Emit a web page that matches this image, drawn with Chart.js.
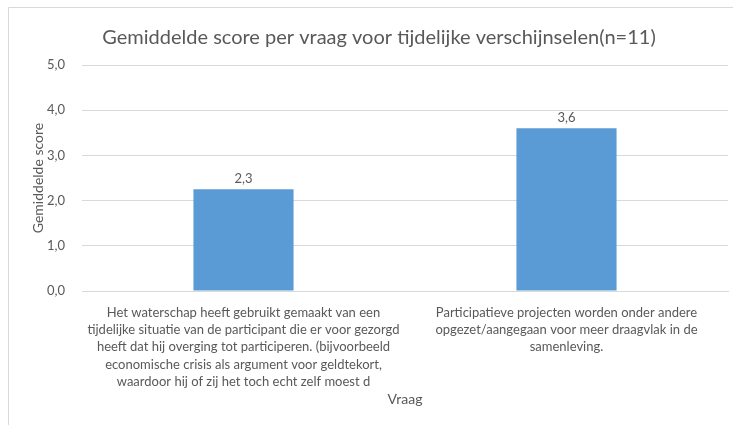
<!DOCTYPE html>
<html>
<head>
<meta charset="utf-8">
<script src="https://cdn.jsdelivr.net/npm/chart.js@4/dist/chart.umd.min.js"></script>
<style>
  html, body { margin: 0; padding: 0; background: #fff; }
  #wrap { width: 733px; height: 425px; position: relative; }
</style>
</head>
<body>
<div id="wrap"><canvas id="chart" width="733" height="425"></canvas></div>
<script>
// gegevens
const categories = [
    ['Het waterschap heeft gebruikt gemaakt van een',
     'tijdelijke situatie van de participant die er voor gezorgd',
     'heeft dat hij overging tot participeren. (bijvoorbeeld',
     'economische crisis als argument voor geldtekort,',
     'waardoor hij of zij het toch echt zelf moest d'],
    ['Participatieve projecten worden onder andere',
     'opgezet/aangegaan voor meer draagvlak in de',
     'samenleving.']
];
const scores = [2.25, 3.6];
const yTicks = [0, 1, 2, 3, 4, 5];

const textColor = '#595959';
const gridColor = '#d9d9d9';
const fontFam = 'Lato, "Open Sans", sans-serif';

function komma(v, d) {
    return Number(v).toFixed(d).replace('.', ',');
}

// rand links en boven, zoals in het origineel
const frame = {
    id: 'frame',
    beforeDraw(chart) {
        const c = chart.ctx;
        c.save();
        c.fillStyle = '#fff';
        c.fillRect(0, 0, chart.width, chart.height);
        c.strokeStyle = gridColor;
        c.lineWidth = 1;
        c.beginPath();
        c.moveTo(8.5, chart.height);
        c.lineTo(8.5, 7.5);
        c.lineTo(chart.width, 7.5);
        c.stroke();
        c.restore();
    }
};

// waarden boven de staven
const valueLabels = {
    id: 'valueLabels',
    afterDatasetsDraw(chart) {
        const c = chart.ctx;
        const meta = chart.getDatasetMeta(0);
        c.save();
        c.fillStyle = textColor;
        c.font = '13px ' + fontFam;
        c.textAlign = 'center';
        c.textBaseline = 'bottom';
        meta.data.forEach((bar, i) => {
            c.fillText(komma(scores[i], 1), bar.x, bar.y - 4);
        });
        c.restore();
    }
};

const ctx = document.getElementById('chart').getContext('2d');
new Chart(ctx, {
    type: 'bar',
    data: {
        labels: categories,
        datasets: [{
            label: 'Gemiddelde score',
            data: scores,
            backgroundColor: '#5b9bd5',
            borderWidth: 0,
            categoryPercentage: 1,
            barPercentage: 0.31
        }]
    },
    options: {
        responsive: false,
        animation: false,
        devicePixelRatio: 1,
        layout: { padding: { left: 30, right: 5, top: 14, bottom: 17 } },
        plugins: {
            legend: { display: false },
            tooltip: { enabled: false },
            title: {
                display: true,
                text: 'Gemiddelde score per vraag voor tijdelijke verschijnselen(n=11)',
                color: textColor,
                font: { family: fontFam, size: 20, weight: 'normal' },
                padding: { top: 12, bottom: 15 }
            }
        },
        scales: {
            x: {
                grid: { display: false },
                border: { color: gridColor },
                afterFit(scale) {
                    // vaste hoogte, lange labels mogen de plot niet verschuiven
                    scale.height = 117;
                    scale.paddingLeft = 0;
                    scale.paddingRight = 0;
                },
                ticks: {
                    color: textColor,
                    font: { family: fontFam, size: 13, lineHeight: 1.33 },
                    maxRotation: 0,
                    autoSkip: false,
                    padding: 5
                },
                title: {
                    display: true,
                    text: 'Vraag',
                    color: textColor,
                    font: { family: fontFam, size: 14 },
                    padding: { top: 3, bottom: 0 }
                }
            },
            y: {
                min: 0,
                max: 5,
                afterBuildTicks(axis) {
                    axis.ticks = yTicks.map(v => ({ value: v }));
                },
                afterFit(scale) {
                    scale.width = 52;
                },
                grid: { color: gridColor, drawTicks: false },
                border: { display: false },
                ticks: {
                    color: textColor,
                    font: { family: fontFam, size: 13 },
                    padding: 17,
                    callback: v => komma(v, 1)
                },
                title: {
                    display: true,
                    text: 'Gemiddelde score',
                    color: textColor,
                    font: { family: fontFam, size: 14 },
                    padding: { top: 0, bottom: 4 }
                }
            }
        }
    },
    plugins: [frame, valueLabels]
});
</script>
</body>
</html>
